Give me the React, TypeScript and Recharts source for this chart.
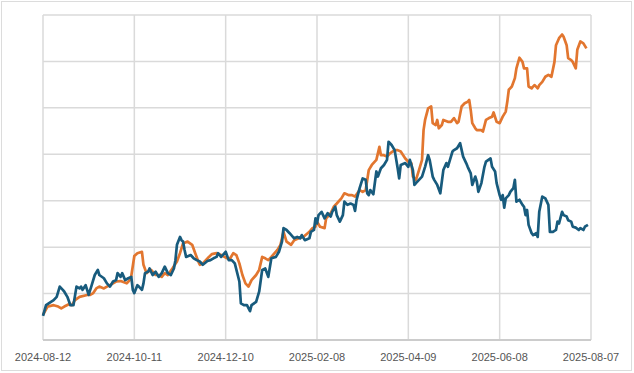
import { LineChart, Line, XAxis, YAxis, CartesianGrid } from "recharts";

// days since 2024-08-12 (one grid step = 10)
const tickDays = [0, 60, 120, 180, 240, 300, 360];
const tickLabels = ["2024-08-12", "2024-10-11", "2024-12-10", "2025-02-08", "2025-04-09", "2025-06-08", "2025-08-07"];
const valueTicks = [0, 10, 20, 30, 40, 50, 60, 70];

const orangeDays = [
  0, 3, 7, 10, 12, 14, 17, 19, 21, 24, 29, 31, 33, 35, 37, 40, 42, 44, 46, 48, 51, 55, 57, 58, 60, 62, 65, 66, 68, 69,
  71, 74, 76, 78, 80, 82, 85, 88, 90, 92, 95, 98, 100, 102, 103, 105, 109, 111, 114, 117, 121, 123, 125, 127, 129, 131,
  133, 135, 137, 140, 142, 144, 146, 148, 150, 154, 156, 158, 160, 163, 165, 168, 171, 175, 177, 179, 180, 182, 185, 186,
  189, 191, 193, 196, 198, 201, 203, 205, 208, 210, 212, 214, 216, 219, 221, 222, 224, 226, 228, 231, 233, 235, 238, 240,
  242, 243, 245, 247, 249, 250, 251, 253, 255, 256, 258, 259, 260, 262, 263, 266, 268, 270, 272, 273, 275, 277, 279, 280,
  281, 282, 284, 285, 288, 289, 291, 293, 295, 296, 298, 300, 302, 304, 305, 306, 308, 310, 311, 313, 315, 316, 318, 319,
  321, 322, 323, 325, 326, 328, 330, 332, 334, 336, 337, 339, 341, 342, 344, 345, 347, 348, 350, 351, 353, 355, 357,
];
const orangeValues = [
  5.4, 7.2, 7.5, 7.2, 6.8, 7.2, 7.7, 7.5, 8.6, 9.3, 9.7, 9.7, 10.1, 11.1, 11.5, 11.1, 11.5, 11.8, 12.2, 12.6, 12.7, 12.2,
  12.9, 13.8, 18.1, 18.7, 19.0, 16.2, 14.4, 14.7, 15.1, 14.0, 14.0, 13.6, 14.4, 14.0, 15.4, 16.9, 18.7, 20.8, 21.2, 20.5,
  18.7, 16.9, 16.2, 16.5, 17.9, 18.5, 18.7, 18.3, 17.6, 17.6, 18.7, 18.3, 16.5, 14.0, 12.2, 11.5, 12.9, 14.0, 15.1, 17.9,
  17.6, 17.2, 17.9, 19.4, 20.5, 23.3, 21.2, 20.5, 21.5, 21.9, 22.2, 23.3, 24.1, 24.4, 25.5, 24.4, 24.1, 26.2, 27.3, 28.7,
  29.4, 30.5, 31.6, 31.2, 31.2, 30.9, 32.3, 31.9, 32.3, 36.6, 37.7, 38.8, 41.6, 39.8, 39.8, 39.5, 40.2, 40.9, 40.9, 40.6,
  39.1, 38.4, 38.1, 35.2, 34.5, 36.6, 38.8, 45.2, 47.4, 49.9, 50.3, 46.7, 46.3, 47.4, 45.6, 46.3, 47.4, 47.0, 47.0, 47.8,
  46.7, 47.0, 50.3, 51.0, 51.3, 51.7, 49.5, 46.7, 45.6, 45.2, 45.2, 44.9, 47.4, 47.8, 48.1, 49.0, 47.0, 46.7, 48.1, 49.2,
  51.3, 53.9, 54.6, 56.4, 58.5, 60.8, 59.9, 58.5, 58.5, 54.6, 54.2, 54.6, 54.9, 54.2, 54.9, 55.6, 56.7, 57.1, 56.7, 59.9,
  63.5, 65.0, 65.8, 65.3, 63.5, 60.7, 60.3, 59.9, 58.5, 62.5, 64.3, 63.9, 62.8,
];

const blueDays = [
  0, 2, 7, 9, 11, 13, 14, 16, 18, 20, 22, 24, 25, 26, 28, 29, 30, 32, 34, 36, 37, 40, 42, 44, 46, 48, 49, 51, 52, 54, 56,
  58, 59, 60, 62, 63, 65, 66, 67, 69, 70, 72, 74, 76, 78, 80, 82, 84, 86, 87, 88, 90, 91, 92, 93, 94, 97, 99, 101, 103,
  105, 108, 110, 112, 114, 115, 117, 120, 122, 124, 126, 129, 130, 132, 134, 136, 137, 140, 142, 144, 146, 148, 150, 153,
  155, 157, 158, 160, 162, 165, 167, 169, 170, 172, 175, 176, 178, 179, 180, 181, 183, 185, 187, 189, 190, 192, 193, 195,
  197, 198, 200, 202, 204, 205, 206, 208, 210, 212, 213, 214, 215, 217, 219, 220, 222, 224, 226, 227, 229, 231, 233, 234,
  235, 238, 240, 241, 243, 244, 245, 247, 249, 251, 253, 254, 256, 257, 259, 261, 263, 265, 266, 267, 269, 270, 272, 274,
  276, 278, 279, 281, 282, 284, 285, 286, 288, 290, 291, 294, 295, 297, 298, 300, 301, 302, 303, 304, 306, 307, 309, 310,
  311, 313, 315, 316, 317, 318, 319, 321, 322, 324, 325, 326, 328, 330, 332, 333, 335, 337, 338, 339, 341, 342, 344, 345,
  347, 348, 350, 352, 353, 355, 356, 358,
];
const blueValues = [
  5.2, 7.5, 8.6, 9.3, 11.5, 10.8, 10.4, 9.3, 7.5, 7.5, 11.5, 11.1, 11.5, 10.8, 11.8, 10.8, 9.7, 11.8, 14.0, 15.1, 14.0,
  13.3, 12.2, 11.5, 12.6, 12.9, 14.4, 13.6, 14.4, 12.9, 13.3, 13.6, 10.8, 10.1, 11.8, 11.5, 10.8, 12.2, 14.4, 14.7, 15.4,
  14.0, 14.7, 13.6, 14.4, 15.8, 14.4, 14.0, 15.4, 17.2, 20.5, 22.2, 21.5, 21.2, 19.4, 17.9, 18.3, 17.6, 17.2, 16.9, 16.2,
  17.0, 17.2, 17.6, 17.9, 18.7, 17.9, 19.0, 17.2, 17.2, 16.5, 12.6, 7.9, 7.5, 7.5, 6.2, 7.5, 8.2, 10.4, 15.1, 15.4, 13.6,
  17.6, 17.9, 19.0, 21.2, 24.1, 23.7, 23.0, 21.9, 22.2, 21.9, 22.6, 21.5, 21.9, 23.3, 23.7, 26.2, 25.1, 26.9, 27.6, 26.2,
  27.3, 26.6, 27.6, 28.7, 26.9, 25.5, 26.9, 29.8, 29.1, 29.4, 29.1, 27.8, 30.2, 32.7, 34.8, 34.5, 31.6, 31.2, 32.3, 31.4,
  36.3, 35.2, 37.0, 37.7, 38.8, 42.7, 42.0, 40.9, 37.0, 34.8, 37.7, 38.1, 37.3, 38.8, 36.6, 33.4, 33.8, 34.5, 35.2, 37.3,
  39.8, 38.8, 35.2, 34.5, 33.4, 31.6, 36.6, 38.1, 37.3, 38.4, 40.6, 40.9, 41.3, 42.4, 39.5, 38.1, 37.3, 35.9, 33.4, 35.2,
  34.1, 31.9, 33.8, 37.3, 38.4, 39.1, 37.3, 36.3, 33.8, 31.2, 30.2, 31.2, 28.5, 30.5, 31.2, 31.9, 32.7, 34.5, 29.8, 30.2,
  29.1, 28.7, 26.9, 28.0, 24.8, 23.0, 22.6, 23.0, 22.2, 27.6, 30.9, 30.5, 29.1, 23.3, 23.3, 23.7, 25.5, 25.1, 27.6, 26.9,
  26.6, 25.8, 25.5, 24.4, 24.2, 23.7, 24.1, 23.7, 24.4, 24.8,
];

const orangeData = orangeDays.map((day, i) => ({ day, value: orangeValues[i] }));
const blueData = blueDays.map((day, i) => ({ day, value: blueValues[i] }));

const formatTick = (day: number) => tickLabels[tickDays.indexOf(day)] ?? "";

export default function App() {
  return (
    <div style={{ position: "absolute", left: 0, top: 0, width: 634, height: 373, background: "#fff" }}>
      <div
        style={{
          position: "absolute",
          left: 1,
          top: 1,
          width: 631,
          height: 370,
          border: "1px solid #dcdcdc",
          boxSizing: "border-box",
        }}
      />
      <LineChart
        width={634}
        height={373}
        margin={{ top: 15, right: 43, left: 43, bottom: 3 }}
        style={{ position: "absolute", left: 0, top: 0 }}
      >
        <CartesianGrid stroke="#dadada" strokeWidth={1.5} />
        <XAxis
          type="number"
          dataKey="day"
          domain={[0, 360]}
          ticks={tickDays}
          tickFormatter={formatTick}
          height={30}
          tickLine={false}
          tickSize={6}
          tickMargin={7}
          axisLine={{ stroke: "#cccccc", strokeWidth: 2 }}
          tick={{ fill: "#555", fontSize: 11, fontFamily: "Liberation Sans, Arial, sans-serif" }}
          interval={0}
        />
        <YAxis hide type="number" domain={[0, 70]} ticks={valueTicks} />
        <Line
          data={orangeData}
          dataKey="value"
          type="linear"
          stroke="#e2762f"
          strokeWidth={2.7}
          strokeLinejoin="round"
          dot={false}
          isAnimationActive={false}
        />
        <Line
          data={blueData}
          dataKey="value"
          type="linear"
          stroke="#185b7d"
          strokeWidth={2.7}
          strokeLinejoin="round"
          dot={false}
          isAnimationActive={false}
        />
      </LineChart>
    </div>
  );
}
